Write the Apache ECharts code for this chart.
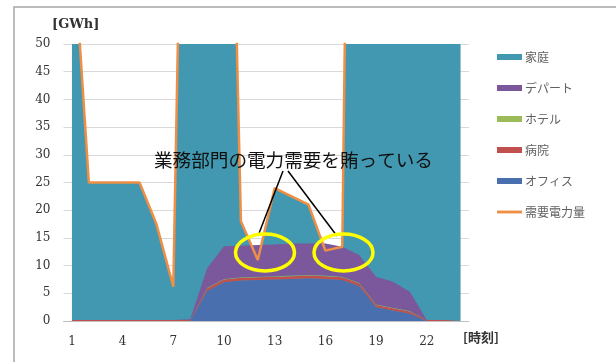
<!DOCTYPE html>
<html>
<head>
<meta charset="utf-8">
<script src="https://cdn.jsdelivr.net/npm/echarts@6/dist/echarts.min.js"></script>
<style>
html,body{margin:0;padding:0;background:#fff;}
#main{width:616px;height:362px;}
</style>
</head>
<body>
<div id="main"></div>
<script>
// 時刻 1..24
const hours = ['1','2','3','4','5','6','7','8','9','10','11','12','13','14','15','16','17','18','19','20','21','22','23','24'];
// 需要電力量 (家庭の面は需要の線まで)
const demand     = [72, 25, 25, 25, 25, 17.5, 6.2, 170, 160, 150, 18, 11, 24, 22.5, 21, 12.7, 13.4, 260, 260, 260, 260, 260, 260, 260];
const office     = [0, 0, 0, 0, 0, 0, 0, 0, 5.4, 7.0, 7.3, 7.4, 7.5, 7.6, 7.7, 7.6, 7.4, 6.3, 2.5, 1.9, 1.3, 0, 0, 0];
const hospital   = [0.2, 0.2, 0.2, 0.2, 0.2, 0.2, 0.2, 0.2, 0.5, 0.5, 0.5, 0.5, 0.5, 0.5, 0.5, 0.5, 0.5, 0.5, 0.4, 0.4, 0.4, 0.2, 0.2, 0.2];
const hotel      = [0, 0, 0, 0, 0, 0, 0, 0, 0.1, 0.1, 0.1, 0.1, 0.1, 0.1, 0.1, 0.1, 0.1, 0.1, 0.1, 0.1, 0.1, 0, 0, 0];
const department = [0, 0, 0, 0, 0, 0, 0, 0.1, 3.5, 5.9, 5.7, 5.7, 5.7, 5.8, 5.7, 5.8, 5.4, 5.0, 5.0, 4.7, 3.5, 0, 0, 0];
const yTicks = [0, 5, 10, 15, 20, 25, 30, 35, 40, 45, 50];

const colors = {
    home: '#4298b0',
    dept: '#7b579c',
    hotel: '#9bbb59',
    hosp: '#c0504d',
    office: '#4a6fae',
    demand: '#ee8f45'
};

let el = document.getElementById('main');
let myChart = echarts.init(el);

function areaSeries(name, data, color, stack, z){
    return {
        name: name,
        type: 'line',
        data: data,
        stack: stack,
        symbol: 'none',
        z: z,
        lineStyle: {width: 0},
        itemStyle: {color: color},
        areaStyle: {color: color, opacity: 1}
    };
}

let serif = '"DejaVu Serif", "Liberation Serif", serif';
let cjk = '"Noto Sans CJK JP", sans-serif';

let option = {
    animation: false,
    backgroundColor: '#fff',
    grid: {left: 63.5, right: 147, top: 44, bottom: 41},
    legend: {
        orient: 'vertical',
        left: 492,
        top: 45,
        itemWidth: 25,
        itemHeight: 6,
        itemGap: 17,
        textStyle: {fontFamily: cjk, fontSize: 12, color: '#606060', lineHeight: 14, padding: [0, 0, 0, -2]},
        data: [
            {name: '家庭', icon: 'rect'},
            {name: 'デパート', icon: 'rect'},
            {name: 'ホテル', icon: 'rect'},
            {name: '病院', icon: 'rect'},
            {name: 'オフィス', icon: 'rect'},
            {name: '需要電力量', icon: 'path://M0,0 L26,0 L26,3 L0,3 Z'}
        ]
    },
    xAxis: {
        type: 'category',
        data: hours,
        boundaryGap: true,
        axisLine: {lineStyle: {color: '#bfbfbf'}},
        axisTick: {show: false},
        axisLabel: {interval: 2, margin: 15, fontFamily: serif, fontSize: 12, color: '#333'}
    },
    yAxis: {
        type: 'value',
        min: yTicks[0],
        max: yTicks[yTicks.length - 1],
        interval: yTicks[1] - yTicks[0],
        axisLine: {show: false},
        axisTick: {show: false},
        axisLabel: {margin: 13, fontFamily: serif, fontSize: 12, color: '#333'},
        splitLine: {lineStyle: {color: '#d9d9d9'}}
    },
    series: [
        areaSeries('家庭', demand, colors.home, null, 1),
        areaSeries('オフィス', office, colors.office, 'use', 2),
        areaSeries('病院', hospital, colors.hosp, 'use', 2),
        areaSeries('ホテル', hotel, colors.hotel, 'use', 2),
        areaSeries('デパート', department, colors.dept, 'use', 2),
        {
            name: '需要電力量',
            type: 'line',
            data: demand,
            symbol: 'none',
            z: 5,
            itemStyle: {color: colors.demand},
            lineStyle: {color: colors.demand, width: 2.5}
        }
    ],
    graphic: [
        // 外枠
        {type: 'rect', shape: {x: 14, y: 7, width: 640, height: 420},
         style: {fill: 'none', stroke: '#a6a6a6', lineWidth: 1.5}, z: 0, silent: true},
        {type: 'text', style: {text: '[GWh]', x: 52, y: 25, verticalAlign: 'middle',
         font: 'bold 13px ' + serif, fill: '#333'}},
        {type: 'text', style: {text: '[時刻]', x: 463, y: 337, verticalAlign: 'middle',
         font: 'bold 13px ' + cjk, fill: '#333'}},
        // 注釈
        {type: 'text', z: 10, style: {text: '業務部門の電力需要を賄っている', x: 154, y: 160, verticalAlign: 'middle',
         font: '18.6px ' + cjk, fill: '#111'}},
        {type: 'line', z: 10, shape: {x1: 283, y1: 171, x2: 258, y2: 236}, style: {stroke: '#000', lineWidth: 1.5}},
        {type: 'line', z: 10, shape: {x1: 288, y1: 171, x2: 337, y2: 236}, style: {stroke: '#000', lineWidth: 1.5}},
        {type: 'ellipse', z: 10, shape: {cx: 265, cy: 252.5, rx: 29.5, ry: 18.5}, style: {fill: 'none', stroke: '#ffff00', lineWidth: 3.5}},
        {type: 'ellipse', z: 10, shape: {cx: 343.5, cy: 252.5, rx: 29.5, ry: 18.5}, style: {fill: 'none', stroke: '#ffff00', lineWidth: 3.5}}
    ]
};

myChart.setOption(option);
</script>
</body>
</html>
